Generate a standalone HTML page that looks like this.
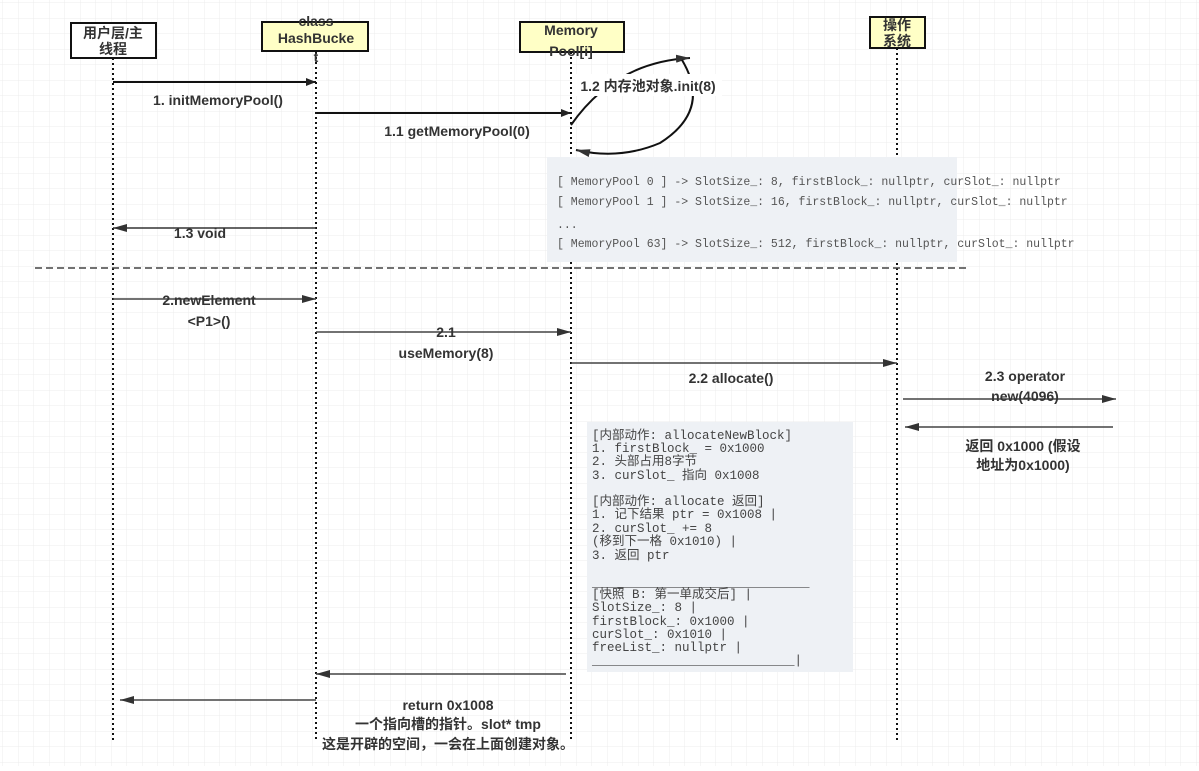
<!DOCTYPE html>
<html><head><meta charset="utf-8"><style>
body{margin:0;background:#fff}
svg text{font-family:"Liberation Sans","Noto Sans CJK SC",sans-serif;font-weight:bold;font-size:14px;fill:#333}
.m{font-family:"Liberation Mono","Noto Sans CJK SC",monospace;font-weight:normal;font-size:11.5px;fill:#555}
.c{font-family:"Liberation Mono","Noto Sans CJK SC",monospace;font-weight:normal;font-size:12.5px;fill:#444}
</style></head><body>
<svg width="1199" height="766" viewBox="0 0 1199 766" xmlns="http://www.w3.org/2000/svg">
<defs>
<pattern id="g" width="15.5" height="15.5" patternUnits="userSpaceOnUse" x="3" y="3">
<path d="M15.5 0V15.5M0 15.5H15.5" fill="none" stroke="#ececec" stroke-width="1"/>
</pattern>
<marker id="a" markerWidth="10" markerHeight="8" refX="10" refY="4" orient="auto" markerUnits="userSpaceOnUse"><path d="M0 0L10 4L0 8z" fill="#222"/></marker>
<marker id="b" markerWidth="14" markerHeight="8" refX="14" refY="4" orient="auto" markerUnits="userSpaceOnUse"><path d="M0 0L14 4L0 8z" fill="#333"/></marker>
</defs>
<rect width="1199" height="766" fill="url(#g)"/>
<!-- lifelines -->
<g stroke="#111" stroke-width="2" stroke-dasharray="2,3">
<line x1="113" y1="58" x2="113" y2="742"/>
<line x1="316" y1="52" x2="316" y2="742"/>
<line x1="571" y1="52" x2="571" y2="742"/>
<line x1="897" y1="48" x2="897" y2="742"/>
</g>
<!-- boxes -->
<rect x="71" y="23" width="85" height="35" fill="#fff" stroke="#111" stroke-width="2"/>
<text x="113" y="38" text-anchor="middle" font-size="13">用户层/主</text>
<text x="113" y="54" text-anchor="middle" font-size="13">线程</text>
<rect x="262" y="22" width="106" height="29" fill="#ffffc6" stroke="#111" stroke-width="2"/>
<text x="316" y="26" text-anchor="middle">class</text>
<text x="316" y="43" text-anchor="middle" font-size="15">HashBucke</text>
<text x="316" y="62" text-anchor="middle">t</text>
<rect x="520" y="22" width="104" height="30" fill="#ffffc6" stroke="#111" stroke-width="2"/>
<text x="571" y="35" text-anchor="middle" font-size="15">Memory</text>
<text x="571" y="56" text-anchor="middle" font-size="15">Pool[i]</text>
<rect x="870" y="17" width="55" height="31" fill="#ffffc6" stroke="#111" stroke-width="2"/>
<text x="897" y="30" text-anchor="middle" font-size="12">操作</text>
<text x="897" y="46" text-anchor="middle" font-size="12">系统</text>
<!-- phase 1 -->
<line x1="113" y1="82" x2="316" y2="82" stroke="#111" stroke-width="2" marker-end="url(#a)"/>
<text x="218" y="105" text-anchor="middle">1. initMemoryPool()</text>
<line x1="316" y1="113" x2="571" y2="113" stroke="#111" stroke-width="2" marker-end="url(#a)"/>
<text x="457" y="136" text-anchor="middle">1.1 getMemoryPool(0)</text>
<path d="M571 125 Q615 62 690 58" fill="none" stroke="#111" stroke-width="2" marker-end="url(#b)"/>
<path d="M682 60 Q712 110 660 143 Q620 160 576 150" fill="none" stroke="#111" stroke-width="2" marker-end="url(#b)"/>
<rect x="572" y="74" width="150" height="22" fill="#fff"/>
<text x="648" y="91" text-anchor="middle">1.2 内存池对象.init(8)</text>
<rect x="547" y="157" width="410" height="105" fill="#eef1f5"/>
<text class="m" x="557" y="185">[ MemoryPool 0 ] -&gt; SlotSize_: 8,  firstBlock_: nullptr, curSlot_: nullptr</text>
<text class="m" x="557" y="205">[ MemoryPool 1 ] -&gt; SlotSize_: 16, firstBlock_: nullptr, curSlot_: nullptr</text>
<text class="m" x="557" y="228">...</text>
<text class="m" x="557" y="247">[ MemoryPool 63] -&gt; SlotSize_: 512, firstBlock_: nullptr, curSlot_: nullptr</text>
<line x1="316" y1="228" x2="113" y2="228" stroke="#333" stroke-width="1.5" marker-end="url(#b)"/>
<text x="200" y="238" text-anchor="middle">1.3 void</text>
<line x1="35" y1="268" x2="970" y2="268" stroke="#444" stroke-width="1.5" stroke-dasharray="7,4"/>
<!-- phase 2 -->
<line x1="113" y1="299" x2="316" y2="299" stroke="#444" stroke-width="1.5" marker-end="url(#b)"/>
<text x="209" y="305" text-anchor="middle">2.newElement</text>
<text x="209" y="326" text-anchor="middle">&lt;P1&gt;()</text>
<line x1="316" y1="332" x2="571" y2="332" stroke="#444" stroke-width="1.5" marker-end="url(#b)"/>
<text x="446" y="337" text-anchor="middle">2.1</text>
<text x="446" y="358" text-anchor="middle">useMemory(8)</text>
<line x1="571" y1="363" x2="897" y2="363" stroke="#444" stroke-width="1.5" marker-end="url(#b)"/>
<text x="731" y="383" text-anchor="middle">2.2 allocate()</text>
<line x1="903" y1="399" x2="1116" y2="399" stroke="#444" stroke-width="1.5" marker-end="url(#b)"/>
<text x="1025" y="381" text-anchor="middle">2.3 operator</text>
<text x="1025" y="401" text-anchor="middle">new(4096)</text>
<line x1="1113" y1="427" x2="905" y2="427" stroke="#444" stroke-width="1.5" marker-end="url(#b)"/>
<text x="1023" y="451" text-anchor="middle">返回 0x1000 (假设</text>
<text x="1023" y="470" text-anchor="middle">地址为0x1000)</text>
<rect x="587" y="422" width="266" height="250" fill="#eef1f5"/>
<g class="c">
<text class="c" x="592" y="439">[内部动作: allocateNewBlock]</text>
<text class="c" x="592" y="452">1. firstBlock_ = 0x1000</text>
<text class="c" x="592" y="465">2. 头部占用8字节</text>
<text class="c" x="592" y="479">3. curSlot_ 指向 0x1008</text>
<text class="c" x="592" y="505">[内部动作: allocate 返回]</text>
<text class="c" x="592" y="518">1. 记下结果 ptr = 0x1008    |</text>
<text class="c" x="592" y="532">2. curSlot_ += 8</text>
<text class="c" x="592" y="545">   (移到下一格 0x1010)     |</text>
<text class="c" x="592" y="559">3. 返回 ptr</text>
<text class="c" x="592" y="586">_____________________________</text>
<text class="c" x="592" y="598"> [快照 B: 第一单成交后]    |</text>
<text class="c" x="592" y="611"> SlotSize_: 8              |</text>
<text class="c" x="592" y="625"> firstBlock_: 0x1000       |</text>
<text class="c" x="592" y="638"> curSlot_:    0x1010       |</text>
<text class="c" x="592" y="651"> freeList_:   nullptr      |</text>
<text class="c" x="592" y="664">___________________________|</text>
</g>
<line x1="566" y1="674" x2="316" y2="674" stroke="#444" stroke-width="1.5" marker-end="url(#b)"/>
<line x1="316" y1="700" x2="120" y2="700" stroke="#444" stroke-width="1.5" marker-end="url(#b)"/>
<text x="448" y="710" text-anchor="middle">return 0x1008</text>
<text x="448" y="729" text-anchor="middle">一个指向槽的指针。slot* tmp</text>
<text x="448" y="749" text-anchor="middle">这是开辟的空间，一会在上面创建对象。</text>
</svg>
</body></html>
